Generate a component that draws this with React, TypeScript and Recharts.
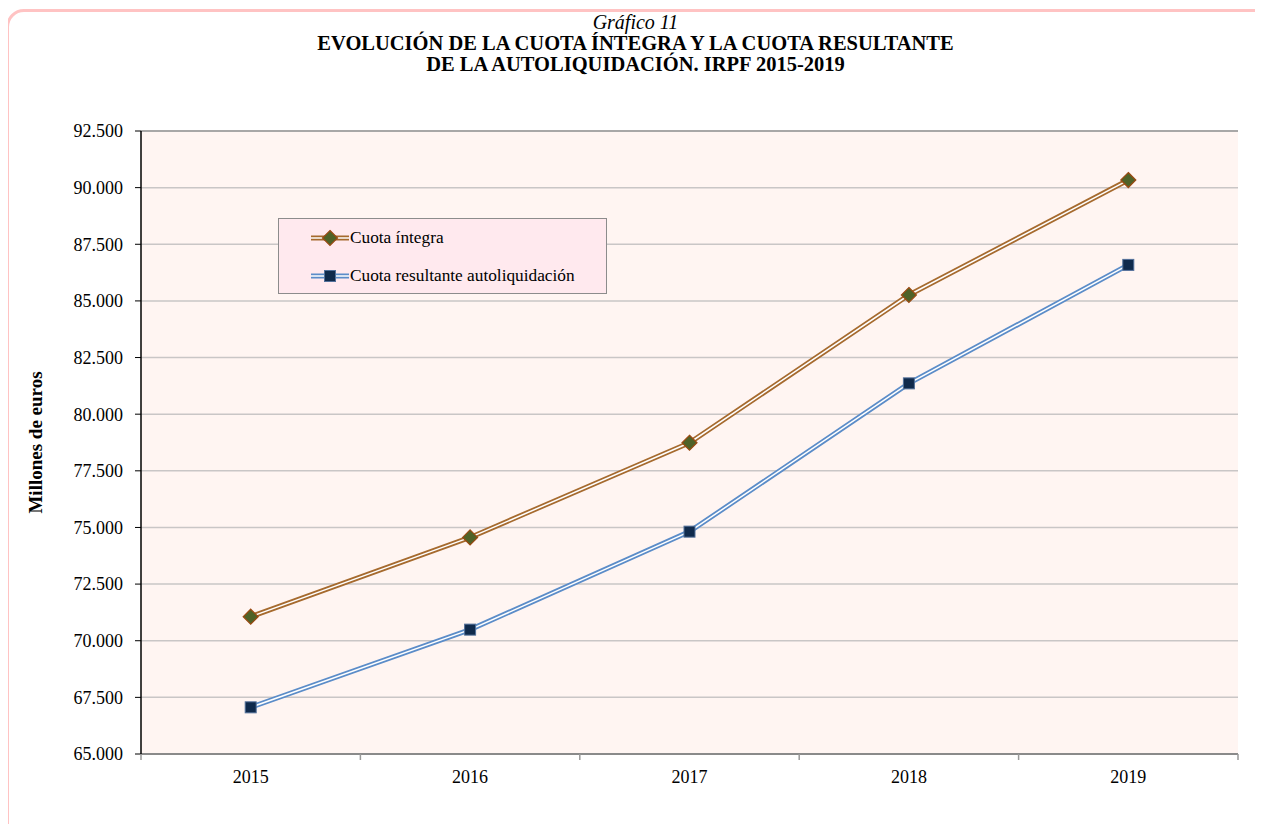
import {
  LineChart,
  Line,
  XAxis,
  YAxis,
  CartesianGrid,
  ReferenceLine
} from "recharts";

const years = ["2015", "2016", "2017", "2018", "2019"];
const cuotaIntegra = [71060, 74560, 78740, 85260, 90335];
const cuotaResultante = [67060, 70490, 74815, 81360, 86590];
const yTicks = [65000, 67500, 70000, 72500, 75000, 77500, 80000, 82500, 85000, 87500, 90000, 92500];

const W = 1255;
const H = 816;
const PLOT_W = 1097;

const ORANGE = "#A66A2E";
const BLUE = "#5B8CC8";
const FONT = "'Liberation Serif', 'Times New Roman', serif";

const chartData = years.map((y, i) => ({
  year: y,
  integra: cuotaIntegra[i],
  resultante: cuotaResultante[i]
}));

// 92500 -> "92.500"
const fmt = (v: number) => String(v).replace(/\B(?=(\d{3})+(?!\d))/g, ".");

const Diamond = ({ cx, cy }: any) => {
  if (cx == null || cy == null) return null;
  const r = 7.5;
  return (
    <polygon
      points={`${cx},${cy - r} ${cx + r},${cy} ${cx},${cy + r} ${cx - r},${cy}`}
      fill="#4F6228"
      stroke="#9A4A12"
      strokeWidth={1.2}
    />
  );
};

const Square = ({ cx, cy }: any) => {
  if (cx == null || cy == null) return null;
  return (
    <rect x={cx - 5.5} y={cy - 5.5} width={11} height={11} fill="#102A4C" stroke="#52709A" strokeWidth={1} />
  );
};

const YearTick = ({ x, y, payload, index }: any) => {
  const bw = PLOT_W / years.length;
  return (
    <g>
      <line x1={x - bw / 2} y1={y} x2={x - bw / 2} y2={y + 6} stroke="#999" strokeWidth={1.5} />
      {index === years.length - 1 && (
        <line x1={x + bw / 2} y1={y} x2={x + bw / 2} y2={y + 6} stroke="#999" strokeWidth={1.5} />
      )}
      <text x={x} y={y + 29} textAnchor="middle" fontFamily={FONT} fontSize={18} fill="#000">
        {payload.value}
      </text>
    </g>
  );
};

const LegendIcon = ({ color, marker }: { color: string; marker: "diamond" | "square" }) => (
  <svg width={40} height={18} style={{ display: "block" }}>
    <line x1={1} y1={9} x2={39} y2={9} stroke={color} strokeWidth={5} />
    <line x1={1} y1={9} x2={39} y2={9} stroke="#fff" strokeWidth={1.5} />
    {marker === "diamond" ? <Diamond cx={20} cy={9} /> : <Square cx={20} cy={9} />}
  </svg>
);

const LegendBox = () => (
  <div
    style={{
      position: "absolute",
      left: 270,
      top: 210,
      width: 329,
      height: 76,
      boxSizing: "border-box",
      background: "#FFE9EE",
      border: "1px solid #8C8C8C",
      fontFamily: FONT,
      fontSize: 17.3,
      color: "#000",
      paddingLeft: 31
    }}
  >
    <div style={{ display: "flex", alignItems: "center", height: 18, marginTop: 10 }}>
      <LegendIcon color={ORANGE} marker="diamond" />
      <span>Cuota íntegra</span>
    </div>
    <div style={{ display: "flex", alignItems: "center", height: 18, marginTop: 20 }}>
      <LegendIcon color={BLUE} marker="square" />
      <span>Cuota resultante autoliquidación</span>
    </div>
  </div>
);

export default function App() {
  return (
    <div style={{ position: "relative", width: W, height: H, overflow: "hidden" }}>
      <div
        style={{
          position: "absolute",
          left: -2,
          top: 1,
          width: 1280,
          height: 900,
          border: "3px solid #FFC3C3",
          borderRadius: 18,
          boxSizing: "border-box"
        }}
      />
      <div
        style={{
          position: "absolute",
          left: 0,
          top: 4,
          width: W,
          textAlign: "center",
          fontFamily: FONT,
          color: "#000",
          lineHeight: "21px"
        }}
      >
        <div style={{ fontStyle: "italic", fontSize: 20 }}>Gráfico 11</div>
        <div style={{ fontWeight: "bold", fontSize: 20.5 }}>EVOLUCIÓN DE LA CUOTA ÍNTEGRA Y LA CUOTA RESULTANTE</div>
        <div style={{ fontWeight: "bold", fontSize: 20.5 }}>DE LA AUTOLIQUIDACIÓN. IRPF 2015-2019</div>
      </div>
      <div style={{ position: "absolute", left: 0, top: 0 }}>
        <LineChart width={W} height={H} data={chartData} margin={{ top: 123, right: 25, bottom: 30, left: 0 }}>
          <CartesianGrid vertical={false} stroke="#C9C6C6" strokeWidth={1.5} fill="#FFF5F2" />
          <XAxis
            dataKey="year"
            scale="band"
            height={40}
            tickLine={false}
            tickSize={0}
            tickMargin={0}
            axisLine={{ stroke: "#8A8A8A", strokeWidth: 2 }}
            tick={<YearTick />}
          />
          <YAxis
            width={133}
            domain={[65000, 92500]}
            ticks={yTicks}
            tickFormatter={fmt}
            interval={0}
            tickSize={6}
            tickMargin={12}
            tickLine={{ stroke: "#000" }}
            axisLine={{ stroke: "#000", strokeWidth: 1.5 }}
            tick={{ fontFamily: FONT, fontSize: 18, fill: "#000" }}
            label={{
              value: "Millones de euros",
              angle: -90,
              position: "insideLeft",
              offset: 27,
              style: { fontFamily: FONT, fontSize: 19, fontWeight: "bold", fill: "#000", textAnchor: "middle" }
            }}
          />
          <YAxis
            yAxisId="right"
            orientation="right"
            width={0}
            domain={[0, 1]}
            tick={false}
            tickLine={false}
            axisLine={{ stroke: "#999", strokeWidth: 2 }}
          />
          <ReferenceLine y={92500} stroke="#999" strokeWidth={1.5} />
          <Line dataKey="integra" stroke={ORANGE} strokeWidth={5} dot={false} legendType="none" isAnimationActive={false} />
          <Line dataKey="integra" name="Cuota íntegra" stroke="#fff" strokeWidth={1.5} dot={<Diamond />} activeDot={false} isAnimationActive={false} />
          <Line dataKey="resultante" stroke={BLUE} strokeWidth={5} dot={false} legendType="none" isAnimationActive={false} />
          <Line dataKey="resultante" name="Cuota resultante autoliquidación" stroke="#fff" strokeWidth={1.5} dot={<Square />} activeDot={false} isAnimationActive={false} />
        </LineChart>
      </div>
      <LegendBox />
    </div>
  );
}
